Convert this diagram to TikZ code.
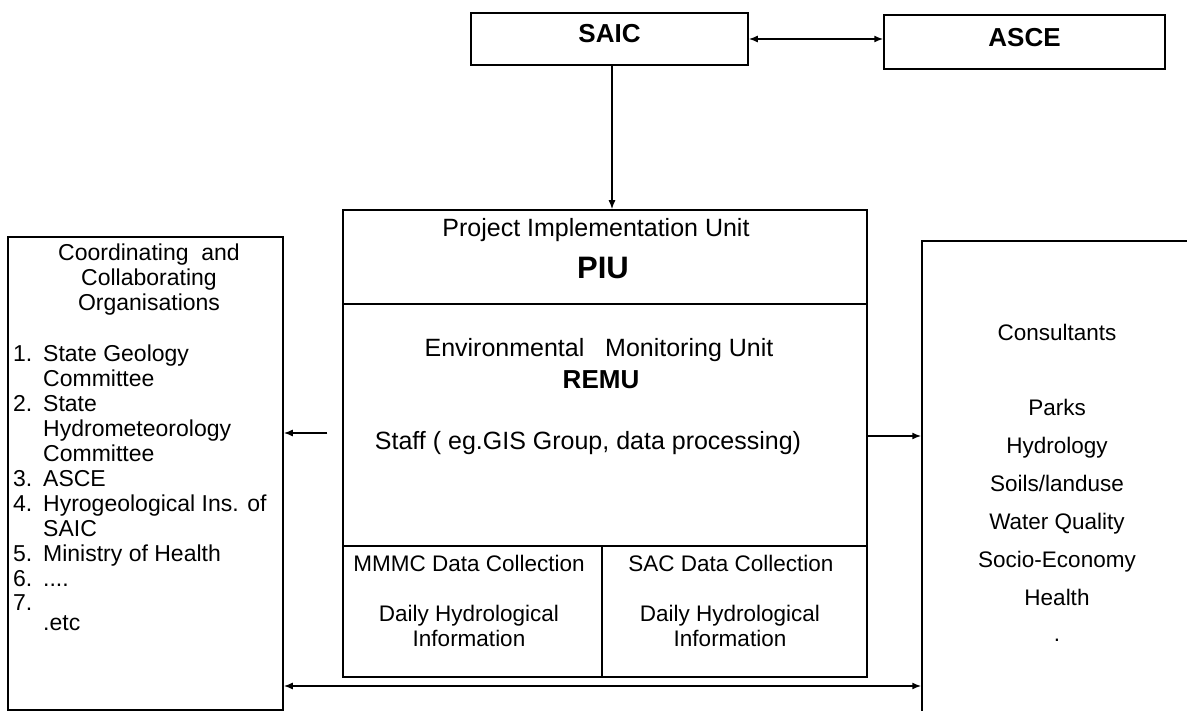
\documentclass[tikz,border=0pt]{standalone}
\usepackage{fontspec}
\setmainfont{Liberation Sans}
\usetikzlibrary{arrows.meta}
\tikzset{
  box/.style={draw, line width=1.5pt, inner sep=0pt},
  link/.style={line width=1.5pt, -{Latex[length=9pt,width=7pt]}},
  twoway/.style={line width=1.5pt, {Latex[length=9pt,width=7pt]}-{Latex[length=9pt,width=7pt]}},
  head/.style={font=\bfseries\fontsize{26}{30}\selectfont},
  body/.style={font=\fontsize{25}{28}\selectfont},
  datatext/.style={font=\fontsize{22.5}{25}\selectfont, align=center},
  sidetext/.style={font=\fontsize{23}{25}\selectfont, align=center},
}

\begin{document}
\begin{tikzpicture}[x=1pt,y=-1pt]
\useasboundingbox (0,0) rectangle (1187,711);
\clip (0,0) rectangle (1187,711);

\node[box, head, text depth=12pt, minimum width=277pt, minimum height=52pt] (saic) at (609.5,39) {SAIC};
\node[box, head, text depth=9pt, minimum width=281pt, minimum height=54pt] (asce) at (1024.5,42) {ASCE};

\node[box, minimum width=524pt, minimum height=94pt] (piu) at (605,257) {};
\node[box, minimum width=524pt, minimum height=242pt] (remu) at (605,425) {};
\node[box, minimum width=259pt, minimum height=131pt] (mmmc) at (472.5,611.5) {};
\node[box, minimum width=265pt, minimum height=131pt] (sac) at (734.5,611.5) {};
\node[box, minimum width=275pt, minimum height=473pt] (coord) at (145.5,473.5) {};
\node[box, minimum width=300pt, minimum height=500pt] (consult) at (1072,491) {};

%unit texts
\node[body] (piutitle) at (596,230) {Project Implementation Unit};
\node[font=\bfseries\fontsize{31}{34}\selectfont] (piuname) at (603,268) {PIU};
\node[body] (emutitle) at (599,350) {Environmental\ \ \ Monitoring Unit};
\node[head] (remuname) at (601,380) {REMU};
\node[body] (staff) at (588,443) {Staff ( eg.GIS Group, data processing)};
\node[datatext] (mmmchead) at (469,563) {MMMC Data Collection};
\node[datatext] (mmmcinfo) at (469,625.5) {Daily Hydrological\\Information};
\node[datatext] (sachead) at (731,563) {SAC Data Collection};
\node[datatext] (sacinfo) at (730,625.5) {Daily Hydrological\\Information};

%organisations
\node[sidetext] (coordhead) at (149,280) {Coordinating\ \ and\\Collaborating\\Organisations};
\node[anchor=north west, inner sep=0pt, font=\fontsize{23}{25}\selectfont] (coordlist) at (13,344) {%
\begin{tabular}{@{}p{30pt}@{}l@{}}
1. & State Geology\\
   & Committee\\
2. & State\\
   & Hydrometeorology\\
   & Committee\\
3. & ASCE\\
4. & Hyrogeological Ins. of\\
   & SAIC\\
5. & Ministry of Health\\
6. & ....\\
\raisebox{5pt}{7.} & \raisebox{-15pt}{.etc}
\end{tabular}};

%consultants
\node[datatext] (consulthead) at (1057,332) {Consultants};
\node[font=\fontsize{22.5}{38}\selectfont, align=center] (fields) at (1057,502) {Parks\\Hydrology\\Soils/landuse\\Water Quality\\Socio-Economy\\Health};
\node[datatext] (dot) at (1057,640) {.};

%links
\draw[twoway] (saic.east) -- (saic.east -| asce.west);
\draw[link] ([xshift=2.5pt]saic.south) -- ([xshift=2.5pt]saic.south |- piu.north);
\draw[link, shorten <=15pt] ([yshift=-8pt]remu.west) -- ([yshift=-8pt]remu.west -| coord.east);
\draw[link] ([yshift=-11pt]remu.east) -- ([yshift=-11pt]remu.east -| consult.west);
\draw[twoway] (coord.east |- 0,686) -- (consult.west |- 0,686);
\end{tikzpicture}
\end{document}
